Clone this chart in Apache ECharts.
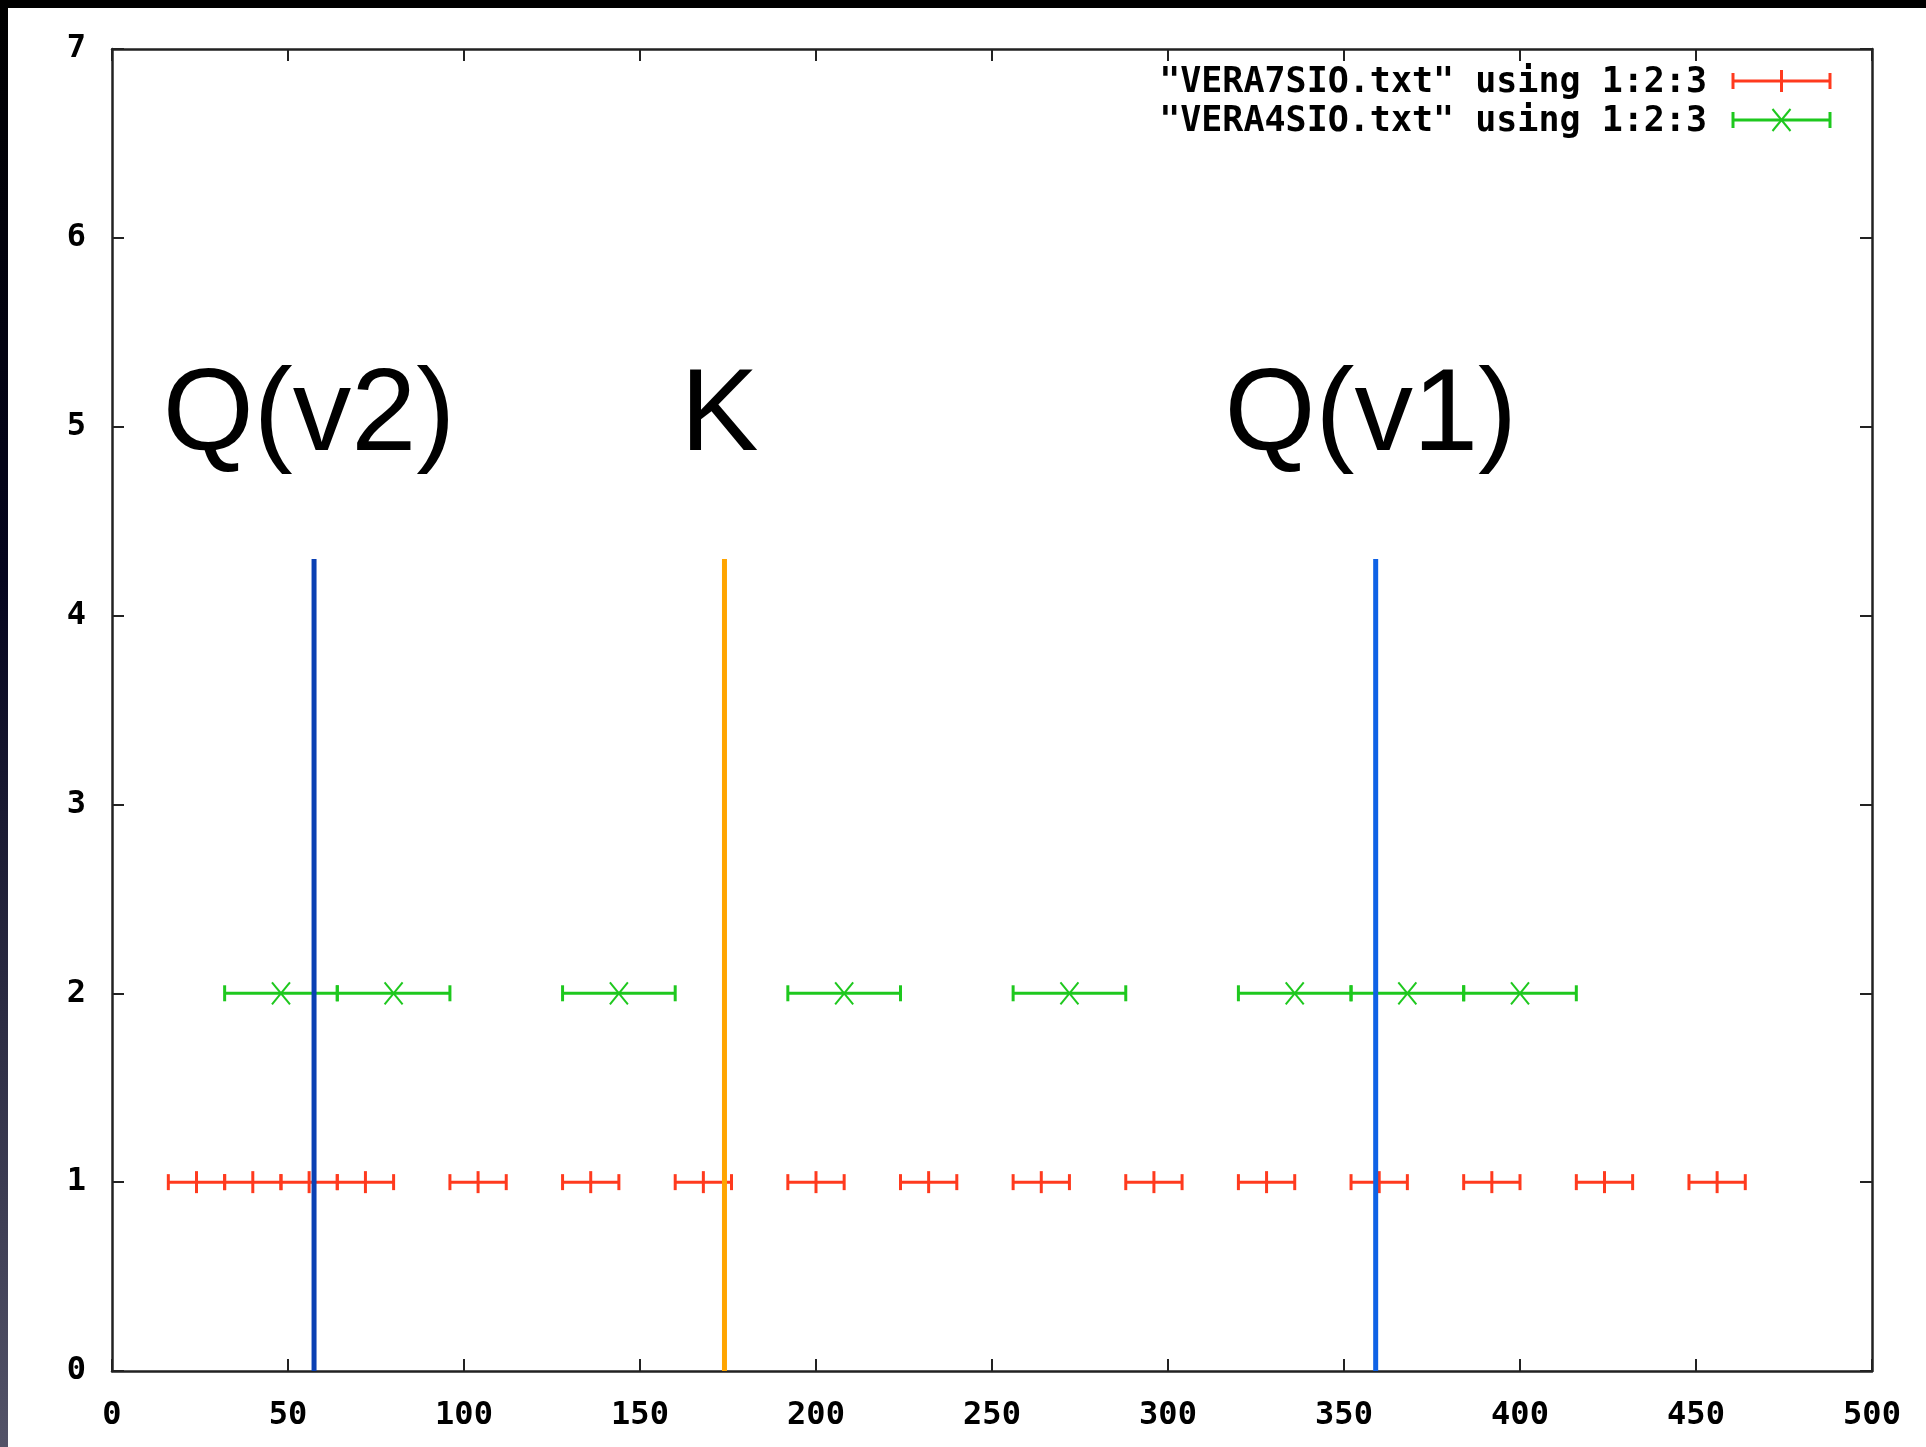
<!DOCTYPE html>
<html lang="en">
<head>
<meta charset="UTF-8">
<title>VERA SiO</title>
<script src="https://cdn.jsdelivr.net/npm/echarts@6/dist/echarts.min.js"></script>
<style>
    html, body { margin: 0; padding: 0; background: #fff; }
    #chart { width: 1926px; height: 1447px; }
</style>
</head>
<body>
<div id="chart"></div>
<script>
    // error bar data: centre, y, half width
    var vera7X = [24, 40, 56, 72, 104, 136, 168, 200, 232, 264, 296, 328, 360, 392, 424, 456];
    var vera7Y = [1, 1, 1, 1, 1, 1, 1, 1, 1, 1, 1, 1, 1, 1, 1, 1];
    var vera7Err = [8, 8, 8, 8, 8, 8, 8, 8, 8, 8, 8, 8, 8, 8, 8, 8];

    var vera4X = [48, 80, 144, 208, 272, 336, 368, 400];
    var vera4Y = [2, 2, 2, 2, 2, 2, 2, 2];
    var vera4Err = [16, 16, 16, 16, 16, 16, 16, 16];

    // marked frequencies
    var lineNames = ['Q(v2)', 'K', 'Q(v1)'];
    var lineX = [57.4, 174, 359];
    var lineTop = 4.3;
    var labelY = 5.05;

    var legendNames = ['"VERA7SIO.txt" using 1:2:3', '"VERA4SIO.txt" using 1:2:3'];

    var red = '#ff3a1e';
    var green = '#1ec81e';
    var lineColors = ['#0a40b4', '#ffa500', '#0f62e6'];
    var monoFont = 'DejaVu Sans Mono';
    var axisColor = '#222';

    function seg(x1, y1, x2, y2, color, w) {
        return { type: 'line', shape: { x1: x1, y1: y1, x2: x2, y2: y2 }, style: { stroke: color, lineWidth: w } };
    }

    function barShapes(cx, lo, hi, y, marker, color) {
        var s = [
            seg(lo, y, hi, y, color, 3),
            seg(lo, y - 8, lo, y + 8, color, 3),
            seg(hi, y - 8, hi, y + 8, color, 3)
        ];
        if (marker === 'plus') {
            s.push(seg(cx, y - 11, cx, y + 11, color, 3));
        } else {
            s.push(seg(cx - 9, y - 11, cx + 9, y + 11, color, 2));
            s.push(seg(cx - 9, y + 11, cx + 9, y - 11, color, 2));
        }
        return s;
    }

    function errorSeries(xs, ys, errs, marker, color) {
        var data = [];
        for (var i = 0; i < xs.length; i++) {
            data.push([xs[i], ys[i], errs[i]]);
        }
        return {
            type: 'custom',
            data: data,
            encode: { x: 0, y: 1 },
            renderItem: function (params, api) {
                var x = api.value(0), y = api.value(1), e = api.value(2);
                var c = api.coord([x, y]);
                var lo = api.coord([x - e, y]);
                var hi = api.coord([x + e, y]);
                return { type: 'group', children: barShapes(c[0], lo[0], hi[0], c[1], marker, color) };
            }
        };
    }

    var series = [
        errorSeries(vera7X, vera7Y, vera7Err, 'plus', red),
        errorSeries(vera4X, vera4Y, vera4Err, 'cross', green)
    ];

    for (var i = 0; i < lineX.length; i++) {
        series.push({
            type: 'line',
            data: [[lineX[i], 0], [lineX[i], lineTop]],
            symbol: 'none',
            lineStyle: { color: lineColors[i], width: 5 },
            z: 5
        });
    }

    var labelData = [];
    for (var i = 0; i < lineNames.length; i++) {
        labelData.push({ name: lineNames[i], value: [lineX[i], labelY] });
    }
    series.push({
        type: 'scatter',
        data: labelData,
        symbolSize: 0,
        itemStyle: { opacity: 1 },
        label: {
            show: true,
            position: 'inside',
            formatter: '{b}',
            offset: [-5, 0],
            color: '#000',
            textBorderWidth: 0,
            fontFamily: 'Liberation Sans',
            fontSize: 117,
            align: 'center',
            verticalAlign: 'middle'
        },
        z: 6
    });

    // legend (drawn by hand, gnuplot style)
    var legendGraphic = [];
    var legendY = [83, 122];
    var legendMarkers = ['plus', 'cross'];
    var legendColors = [red, green];
    for (var i = 0; i < legendNames.length; i++) {
        legendGraphic.push({
            type: 'text',
            x: 1707,
            y: legendY[i],
            style: {
                text: legendNames[i],
                fill: '#000',
                font: 'bold 35px "' + monoFont + '"',
                textAlign: 'right',
                textVerticalAlign: 'middle'
            }
        });
        legendGraphic.push({
            type: 'group',
            children: barShapes(1781.5, 1733, 1830, legendY[i] - 2, legendMarkers[i], legendColors[i])
        });
    }

    // screenshot frame
    legendGraphic.push({
        type: 'rect',
        shape: { x: 0, y: 0, width: 1926, height: 8 },
        style: { fill: '#000' }
    });
    legendGraphic.push({
        type: 'rect',
        shape: { x: 0, y: 0, width: 8, height: 1447 },
        style: {
            fill: new echarts.graphic.LinearGradient(0, 0, 0, 1, [
                { offset: 0, color: '#000000' },
                { offset: 0.4, color: '#05051e' },
                { offset: 1, color: '#535368' }
            ])
        }
    });

    var tickStyle = { show: true, inside: true, length: 12, lineStyle: { color: axisColor, width: 2 } };
    var lineAxis = { show: true, onZero: false, lineStyle: { color: axisColor, width: 2.5 } };

    var myChart = echarts.init(document.getElementById('chart'));
    myChart.setOption({
        animation: false,
        backgroundColor: '#fff',
        grid: { left: 112, right: 54, top: 49, bottom: 76 },
        xAxis: [{
            type: 'value',
            min: 0,
            max: 500,
            interval: 50,
            axisLine: lineAxis,
            axisTick: tickStyle,
            splitLine: { show: false },
            axisLabel: {
                color: '#000',
                fontFamily: monoFont,
                fontWeight: 'bold',
                fontSize: 32,
                margin: 29
            }
        }, {
            type: 'value',
            position: 'top',
            min: 0,
            max: 500,
            interval: 50,
            axisLine: lineAxis,
            axisTick: tickStyle,
            splitLine: { show: false },
            axisLabel: { show: false }
        }],
        yAxis: [{
            type: 'value',
            min: 0,
            max: 7,
            interval: 1,
            axisLine: lineAxis,
            axisTick: tickStyle,
            splitLine: { show: false },
            axisLabel: {
                color: '#000',
                fontFamily: monoFont,
                fontWeight: 'bold',
                fontSize: 32,
                margin: 26
            }
        }, {
            type: 'value',
            position: 'right',
            min: 0,
            max: 7,
            interval: 1,
            axisLine: lineAxis,
            axisTick: tickStyle,
            splitLine: { show: false },
            axisLabel: { show: false }
        }],
        graphic: legendGraphic,
        series: series
    });
</script>
</body>
</html>
